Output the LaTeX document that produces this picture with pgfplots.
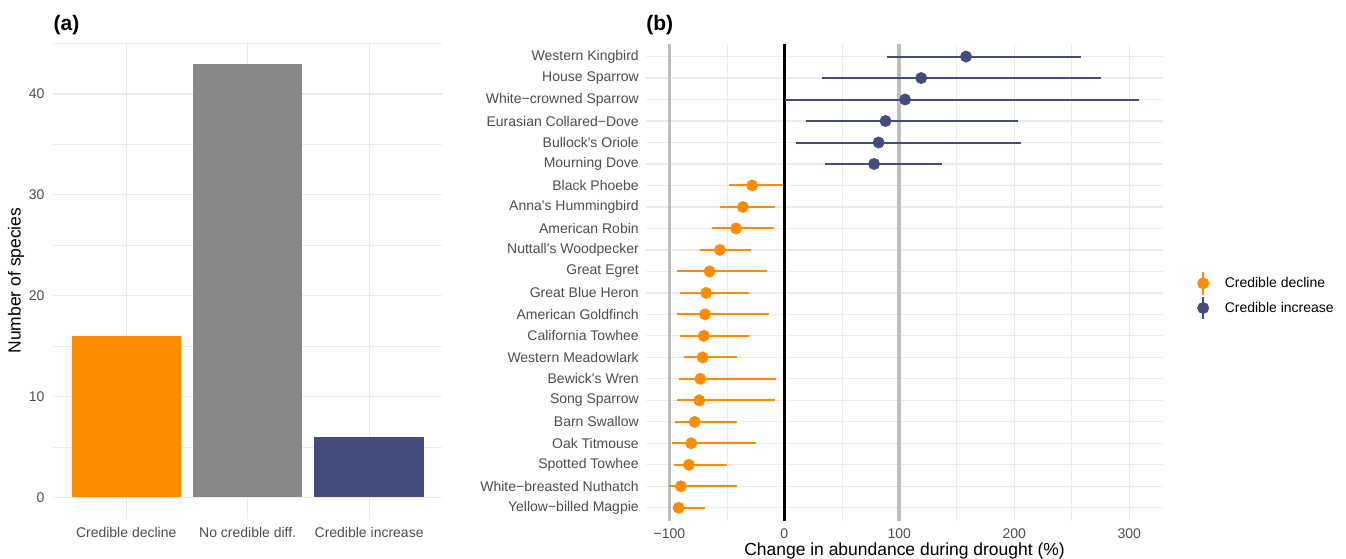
\documentclass[border=0pt]{standalone}
\usepackage{fontspec}
\setmainfont{Liberation Sans}
\usepackage{pgfplots}
\usepackage{pgfplotstable}
\pgfplotsset{compat=1.18}

\definecolor{dorange}{HTML}{FF8C00}
\definecolor{dnavy}{HTML}{434C7D}
\definecolor{bargray}{HTML}{878787}
\definecolor{gridgray}{HTML}{EBEBEB}
\definecolor{refgray}{HTML}{BEBEBE}
\definecolor{ticktext}{HTML}{4D4D4D}
\newcommand{\q}{\textquotesingle}

% species index (1 = bottom row), estimate, lower and upper limits (%)
\pgfplotstableread{
y  x    lo     hi
22 158  89     258
21 119  33     275
20 105  0.6    308.5
19 88   19     203
18 82   10     206
17 78   35     137
}\increase

\pgfplotstableread{
y  x    lo     hi
16 -28  -48    -1
15 -36  -56    -8
14 -42  -63    -9
13 -56  -73    -29
12 -65  -93    -15
11 -68  -91    -31
10 -69  -93    -13
9  -70  -91    -31
8  -71  -87    -41
7  -73  -92    -7
6  -74  -93    -8
5  -78  -95    -41
4  -81  -98    -25
3  -83  -96    -50
2  -90  -99.9  -41
1  -92  -96.5  -69
}\decline

\pgfplotsset{
  ggmin/.style={
    scale only axis, anchor=south west,
    axis line style={draw=none}, tick style={draw=none}, major tick length=0pt,
    grid=both,
    major grid style={line width=0.9pt, draw=gridgray},
    minor grid style={line width=0.5pt, draw=gridgray},
    ticklabel style={font=\fontsize{10.5}{12}\selectfont, text=ticktext, inner sep=0pt},
    xticklabel style={yshift=-6pt},
    /pgf/number format/assume math mode=true,
  },
  ptci/.style={
    only marks, mark=*, mark size=4.25pt,
    error bars/x dir=both, error bars/x explicit,
    error bars/error mark=none,
    error bars/error bar style={line width=1.5pt},
  },
}

\begin{document}
\begin{tikzpicture}
\useasboundingbox (0,0) rectangle (1009.5pt,418.5pt);

% (a) counts per class
\begin{axis}[ggmin,
  at={(40pt,29.25pt)}, width=291.5pt, height=357.75pt,
  xmin=0.4, xmax=3.6, ymin=-2.15, ymax=45.15,
  xtick={1,2,3},
  xticklabels={Credible decline,No credible diff.,Credible increase},
  ytick={0,10,20,30,40}, minor ytick={5,15,25,35,45},
  yticklabel style={xshift=-6.5pt},
]
\addplot[ybar, bar width=0.9, fill=dorange, draw=none] coordinates {(1,16)};
\addplot[ybar, bar width=0.9, fill=bargray, draw=none] coordinates {(2,43)};
\addplot[ybar, bar width=0.9, fill=dnavy, draw=none] coordinates {(3,6)};
\end{axis}

% (b) change in abundance
\begin{axis}[ggmin,
  at={(484.5pt,28pt)}, width=387.75pt, height=357.75pt,
  xmin=-120.3, xmax=329.3, ymin=0.4, ymax=22.6,
  xtick={-100,0,100,200,300},
  xticklabels={−100,0,100,200,300},
  minor xtick={-50,50,150,250},
  ytick={1,...,22},
  yticklabels={Yellow−billed Magpie,White−breasted Nuthatch,Spotted Towhee,Oak Titmouse,Barn Swallow,Song Sparrow,Bewick\q s Wren,Western Meadowlark,California Towhee,American Goldfinch,Great Blue Heron,Great Egret,Nuttall\q s Woodpecker,American Robin,Anna\q s Hummingbird,Black Phoebe,Mourning Dove,Bullock\q s Oriole,Eurasian Collared−Dove,White−crowned Sparrow,House Sparrow,Western Kingbird},
  yticklabel style={xshift=-5.25pt},
  legend style={at={(1.058,0.4717)}, anchor=west, draw=none, fill=none,
    font=\fontsize{10.5}{12}\selectfont, row sep=0pt},
  legend cell align=left,
  legend image code/.code={
    \draw[line width=1.5pt] (0.35em,-8.5pt) -- (0.35em,8.5pt);
    \fill (0.35em,0) circle (4.25pt);
    \path (0.35em+14pt,0);
  },
]
\addplot[refgray, line width=2.75pt, forget plot] coordinates {(-100,0.4) (-100,22.6)};
\addplot[refgray, line width=2.75pt, forget plot] coordinates {(100,0.4) (100,22.6)};
\addplot[black, line width=2.75pt, forget plot] coordinates {(0,0.4) (0,22.6)};
\addplot[color=dorange, ptci] table[x=x, y=y,
  x error plus expr=\thisrow{hi}-\thisrow{x},
  x error minus expr=\thisrow{x}-\thisrow{lo}] {\decline};
\addlegendentry{Credible decline}
\addplot[color=dnavy, ptci] table[x=x, y=y,
  x error plus expr=\thisrow{hi}-\thisrow{x},
  x error minus expr=\thisrow{x}-\thisrow{lo}] {\increase};
\addlegendentry{Credible increase}
\end{axis}

\node[anchor=west, inner sep=0pt, font=\fontsize{15.75}{18}\selectfont\bfseries] at (40pt,399.75pt) {(a)};
\node[anchor=west, inner sep=0pt, font=\fontsize{15.75}{18}\selectfont\bfseries] at (484.5pt,399.75pt) {(b)};
\node[rotate=90, inner sep=0pt, font=\fontsize{13.1}{15}\selectfont] at (12pt,208.1pt) {Number of species};
\node[anchor=base, inner sep=0pt, font=\fontsize{13.1}{15}\selectfont] at (678.4pt,1.9pt) {Change in abundance during drought (\%)};
\end{tikzpicture}
\end{document}
